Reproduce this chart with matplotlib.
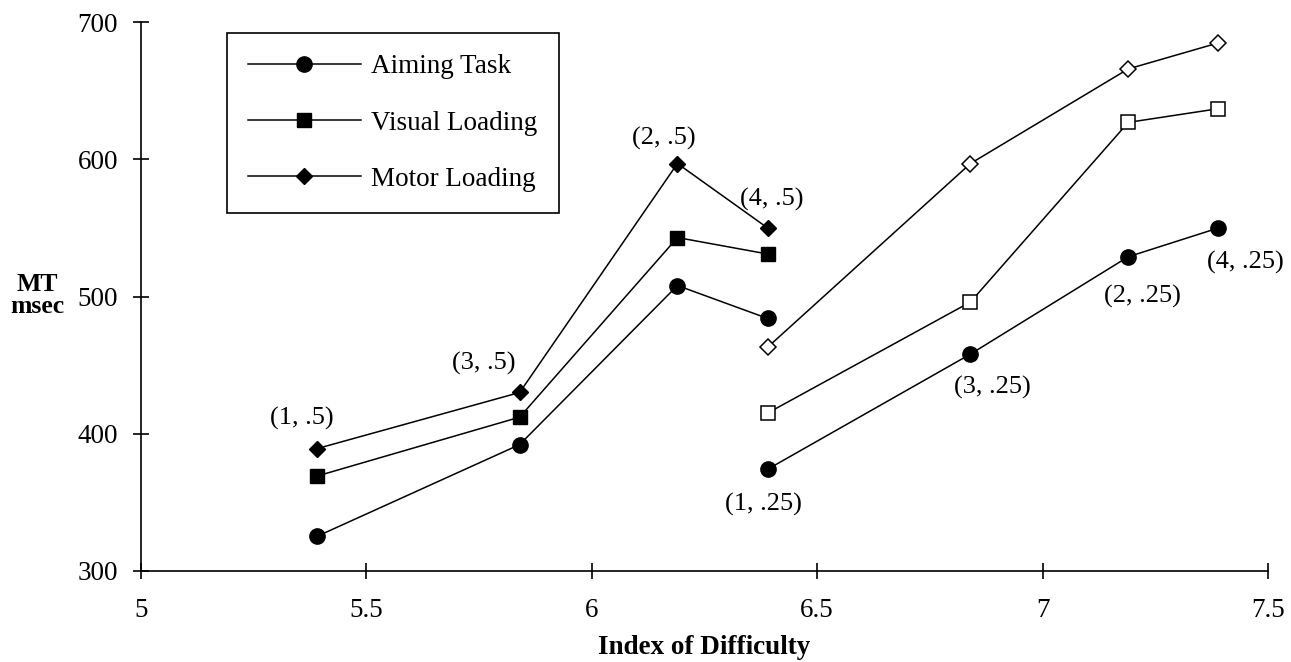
import matplotlib.pyplot as plt

plt.rcParams['font.family'] = ['Liberation Serif', 'DejaVu Serif']

# Index of difficulty for the two amplitude groups
id_half = [5.39, 5.84, 6.19, 6.39]
id_quarter = [6.39, 6.84, 7.19, 7.39]

# Movement time (msec), W = .5
aiming_half = [325, 392, 508, 484]
visual_half = [369, 412, 543, 531]
motor_half = [389, 430, 597, 550]

# Movement time (msec), W = .25
aiming_quarter = [374, 458, 529, 550]
visual_quarter = [415, 496, 627, 637]
motor_quarter = [463, 597, 666, 685]

# Point labels and where they sit (data coords)
point_labels = ["(1, .5)", "(3, .5)", "(2, .5)", "(4, .5)",
                "(1, .25)", "(3, .25)", "(2, .25)", "(4, .25)"]
label_x = [5.357, 5.76, 6.16, 6.40, 6.381, 6.888, 7.222, 7.449]
label_y = [411, 451, 615, 571, 348, 434, 500, 525]

fig = plt.figure(figsize=(12.91, 6.62), dpi=100)
ax = fig.add_axes([0.1092, 0.1379, 0.8730, 0.8284])

lw = 1.1
# filled markers for the .5 group
ax.plot(id_half, aiming_half, color='black', lw=lw, marker='o', ms=11, label='Aiming Task')
ax.plot(id_half, visual_half, color='black', lw=lw, marker='s', ms=10, label='Visual Loading')
ax.plot(id_half, motor_half, color='black', lw=lw, marker='D', ms=8, label='Motor Loading')

# .25 group: aiming filled, the two loading conditions open
ax.plot(id_quarter, aiming_quarter, color='black', lw=lw, marker='o', ms=11)
ax.plot(id_quarter, visual_quarter, color='black', lw=lw, marker='s', ms=10,
        markerfacecolor='white', markeredgewidth=1.1)
ax.plot(id_quarter, motor_quarter, color='black', lw=lw, marker='D', ms=8,
        markerfacecolor='white', markeredgewidth=1.1)

for txt, tx, ty in zip(point_labels, label_x, label_y):
    ax.text(tx, ty, txt, ha='center', va='center', fontsize=19)

ax.set_xlim(5, 7.5)
ax.set_ylim(300, 700)
ax.set_xticks([5, 5.5, 6, 6.5, 7, 7.5])
ax.set_xticklabels(['5', '5.5', '6', '6.5', '7', '7.5'])
ax.set_yticks([300, 400, 500, 600, 700])

for s in ['top', 'right']:
    ax.spines[s].set_visible(False)
ax.spines['left'].set_linewidth(1.2)
ax.spines['bottom'].set_linewidth(1.2)
ax.tick_params(direction='inout', length=11, width=1.2, labelsize=19.5)
ax.tick_params(axis='x', pad=14)
ax.tick_params(axis='y', pad=11)

ax.set_xlabel('Index of Difficulty', fontsize=19.5, fontweight='bold', labelpad=9)
fig.text(0.029, 0.553, 'MT\nmsec', fontsize=18.5, fontweight='bold', ha='center',
         va='center', linespacing=0.95)

leg = ax.legend(loc='upper left', bbox_to_anchor=(0.076, 0.981), borderaxespad=0,
                fontsize=19.5, handlelength=4.15, labelspacing=1.15, borderpad=0.8,
                fancybox=False, framealpha=1, edgecolor='black', handletextpad=0.37)
leg.get_frame().set_linewidth(1.2)

plt.savefig('out.png', dpi=100)
